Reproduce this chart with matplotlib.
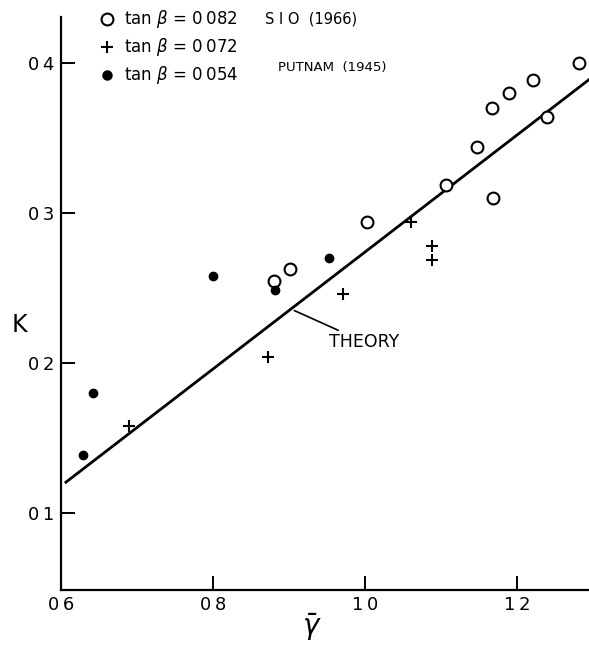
import matplotlib
matplotlib.use("Agg")
import matplotlib.pyplot as plt

# Data
sio_x = [0.880, 0.901, 1.002, 1.106, 1.148, 1.167, 1.168, 1.189, 1.221, 1.239, 1.281]
sio_y = [0.255, 0.263, 0.294, 0.319, 0.344, 0.370, 0.310, 0.380, 0.389, 0.364, 0.400]

p072_x = [0.689, 0.872, 0.971, 1.061, 1.088, 1.088]
p072_y = [0.158, 0.204, 0.246, 0.294, 0.278, 0.269]

p054_x = [0.629, 0.642, 0.800, 0.882, 0.952]
p054_y = [0.139, 0.180, 0.258, 0.249, 0.270]

theory_x = [0.605, 1.30]
theory_y = [0.120, 0.391]

xticks = [0.6, 0.8, 1.0, 1.2]
xticklabels = ["0\u20096", "0\u20098", "1\u20090", "1\u20092"]
yticks = [0.1, 0.2, 0.3, 0.4]
yticklabels = ["0\u20091", "0\u20092", "0\u20093", "0\u20094"]

W, H = 589, 655
fig = plt.figure(figsize=(W / 100, H / 100), dpi=100)
ax = fig.add_axes([61 / W, 1 - 590 / H, (W - 61) / W, (590 - 17) / H])

ax.plot(theory_x, theory_y, color="black", lw=2.0, solid_capstyle="butt", clip_on=True)
ax.plot(sio_x, sio_y, linestyle="none", marker="o", ms=8.5, mfc="white", mec="black", mew=1.5)
ax.plot(p072_x, p072_y, linestyle="none", marker="+", ms=9, color="black", mew=1.5)
ax.plot(p054_x, p054_y, linestyle="none", marker="o", ms=6, color="black")

ax.set_xlim(0.6, 0.6 + 528 / 760)
ax.set_ylim(0.0487, 0.4307)

for s in ("top", "right"):
    ax.spines[s].set_visible(False)
ax.spines["left"].set_linewidth(1.6)
ax.spines["bottom"].set_linewidth(1.6)

ax.set_xticks(xticks)
ax.set_xticklabels(xticklabels)
ax.set_yticks(yticks)
ax.set_yticklabels(yticklabels)
ax.tick_params(axis="both", direction="in", length=10, width=1.4, labelsize=13, colors="black")
ax.tick_params(axis="x", pad=4)
ax.tick_params(axis="y", pad=5)

ax.set_ylabel("K", fontsize=17, rotation=0, va="center", ha="center")
ax.yaxis.set_label_coords(-0.078, 0.4625)
ax.set_xlabel(r"$\bar{\gamma}$", fontsize=20, va="center")
ax.xaxis.set_label_coords((312 - 61) / 528, -(627 - 590) / 573)

# THEORY annotation with leader line
ax.annotate("THEORY", xy=(0.907, 0.235), xytext=(0.953, 0.214),
            fontsize=12.5, ha="left", va="center",
            arrowprops=dict(arrowstyle="-", color="black", lw=1.2, shrinkA=0, shrinkB=0))

# Legend block (pixel positions converted to figure fraction)
def fx(px):
    return px / W

def fy(py):
    return 1 - py / H

rows = [("o", "white", 8.5, 19, "0\u2009082"), ("+", "black", 9, 47, "0\u2009072"), ("o", "black", 6, 75, "0\u2009054")]
for mk, fc, ms, py, val in rows:
    fig.add_artist(plt.Line2D([fx(107)], [fy(py)], marker=mk, ms=ms, mfc=fc, mec="black",
                              mew=1.5, color="black", linestyle="none", transform=fig.transFigure))
    fig.text(fx(124), fy(py), r"tan $\beta$ = " + val, fontsize=12, va="center", ha="left")

fig.text(fx(265), fy(19), "S I O  (1966)", fontsize=10.5, va="center", ha="left")
fig.text(fx(278), fy(67), "PUTNAM  (1945)", fontsize=9.5, va="center", ha="left")

fig.savefig("out.png", dpi=100, facecolor="white")
